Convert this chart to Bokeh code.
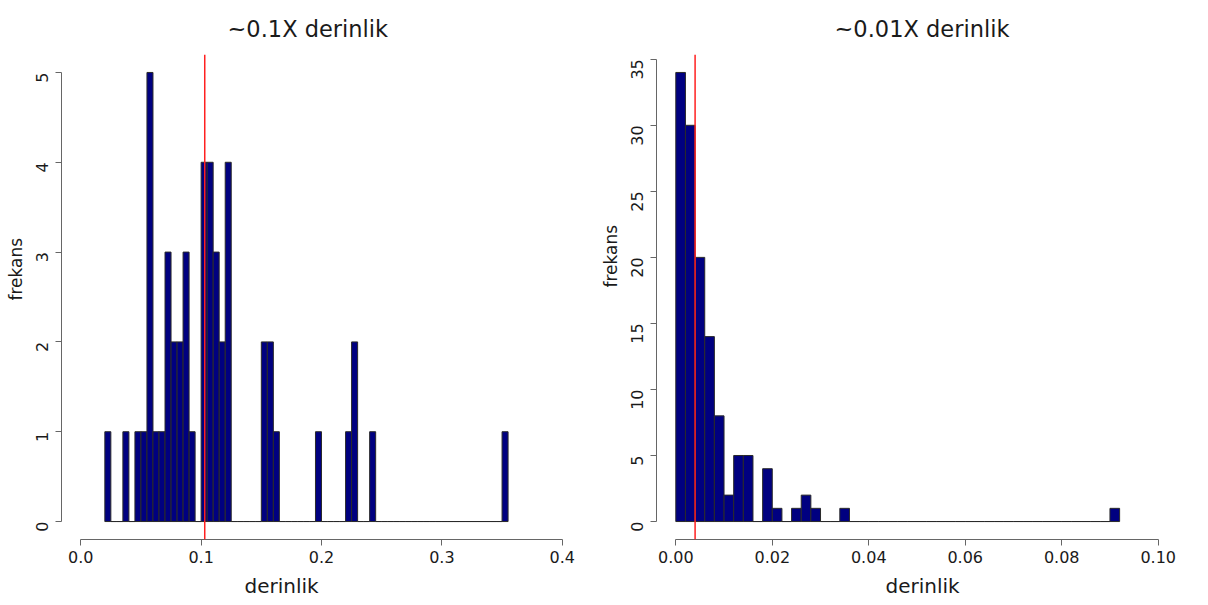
import math
from bokeh.plotting import figure
from bokeh.layouts import row
from bokeh.models import Range1d, FixedTicker, PrintfTickFormatter, Span, ColumnDataSource, Title
from bokeh.embed import file_html
from bokeh.resources import INLINE

# ---------------- data ----------------
# left histogram (~0.1X): bin start, bin width, counts per bin
left_bin_start = 0.020
left_bin_width = 0.005
left_counts = [1, 0, 0, 1, 0, 1, 1, 5, 1, 1, 3, 2, 2, 3, 1, 0, 4, 4, 3, 2, 4,
               0, 0, 0, 0, 0,
               2, 2, 1,
               0, 0, 0, 0, 0, 0,
               1,
               0, 0, 0, 0,
               1, 2, 0, 0, 1,
               0, 0, 0, 0, 0, 0, 0, 0, 0, 0, 0, 0, 0, 0, 0, 0, 0, 0, 0, 0, 0,
               1]
left_mean = 0.103
left_title = "~0.1X derinlik"
left_xticks = [0.0, 0.1, 0.2, 0.3, 0.4]
left_yticks = [0, 1, 2, 3, 4, 5]

# right histogram (~0.01X)
right_bin_start = 0.000
right_bin_width = 0.002
right_counts = [34, 30, 20, 14, 8, 2, 5, 5, 0, 4, 1, 0, 1, 2, 1, 0, 0, 1,
                0, 0, 0, 0, 0, 0, 0, 0, 0, 0, 0, 0, 0, 0, 0, 0, 0, 0, 0, 0,
                0, 0, 0, 0, 0, 0, 0,
                1]
right_mean = 0.004
right_title = "~0.01X derinlik"
right_xticks = [0.00, 0.02, 0.04, 0.06, 0.08, 0.10]
right_yticks = [0, 5, 10, 15, 20, 25, 30, 35]

x_label = "derinlik"
y_label = "frekans"

FONT = "DejaVu Sans"
TEXT = "#1a1a1a"
AXIS = "#666666"


def make_hist(title, start, width, counts, mean, xticks, yticks, xfmt,
              xr, yr, b_left, b_right, fw, ymaj_standoff,
              title_off, xlab_off, ylab_off):
    lefts = [start + i * width for i in range(len(counts))]
    rights = [l + width for l in lefts]
    src = ColumnDataSource(dict(left=lefts, right=rights, top=counts,
                                bottom=[0] * len(counts)))
    p = figure(frame_width=fw, frame_height=485,
               min_border_left=b_left, min_border_right=b_right,
               min_border_top=53, min_border_bottom=60,
               x_range=Range1d(*xr), y_range=Range1d(*yr),
               output_backend="svg", toolbar_location=None,
               background_fill_color="white", border_fill_color="white")
    p.outline_line_color = None
    p.grid.visible = False

    p.quad(left="left", right="right", top="top", bottom="bottom", source=src,
           fill_color="#000080", line_color="#2a2a2a", line_width=1)
    p.add_layout(Span(location=mean, dimension="height",
                      line_color="#ff2020", line_width=1.5))

    p.title.text = title
    p.title.align = "left"
    p.title.offset = title_off
    p.title.text_font = FONT
    p.title.text_font_size = "22.5px"
    p.title.text_font_style = "normal"
    p.title.text_color = TEXT
    p.title.standoff = 26

    for ax in (p.xaxis[0], p.yaxis[0]):
        ax.axis_line_color = AXIS
        ax.major_tick_line_color = AXIS
        ax.minor_tick_line_color = None
        ax.major_tick_out = 6
        ax.major_tick_in = 0
        ax.major_label_text_font = FONT
        ax.major_label_text_font_size = "16px"
        ax.major_label_text_color = TEXT

    xa = p.xaxis[0]
    xa.ticker = FixedTicker(ticks=xticks)
    xa.formatter = PrintfTickFormatter(format=xfmt)
    xa.bounds = (xticks[0], xticks[-1])
    xa.major_label_standoff = 5

    ya = p.yaxis[0]
    ya.ticker = FixedTicker(ticks=yticks)
    ya.formatter = PrintfTickFormatter(format="%d")
    ya.bounds = (yticks[0], yticks[-1])
    ya.major_label_orientation = math.pi / 2
    ya.major_label_standoff = ymaj_standoff

    # axis titles (placed in the side panels next to the axes)
    xt = Title(text=x_label, align="left", offset=xlab_off, standoff=12,
               text_font=FONT, text_font_size="20px", text_font_style="normal",
               text_color=TEXT)
    p.add_layout(xt, "below")
    yt = Title(text=y_label, align="left", offset=ylab_off, standoff=4,
               text_font=FONT, text_font_size="17px", text_font_style="normal",
               text_color=TEXT)
    p.add_layout(yt, "left")
    return p


p1 = make_hist(left_title, left_bin_start, left_bin_width, left_counts, left_mean,
               left_xticks, left_yticks, "%.1f",
               (-0.016, 0.416), (-0.2, 5.2), 61, 7, 520, 13,
               166, 183, 239)
p2 = make_hist(right_title, right_bin_start, right_bin_width, right_counts, right_mean,
               right_xticks, right_yticks, "%.2f",
               (-0.004, 0.104), (-1.36, 35.36), 68, 14, 521, 13,
               178, 229, 252)

layout = row(p1, p2)
open("out.html", "w").write(file_html(layout, INLINE))
